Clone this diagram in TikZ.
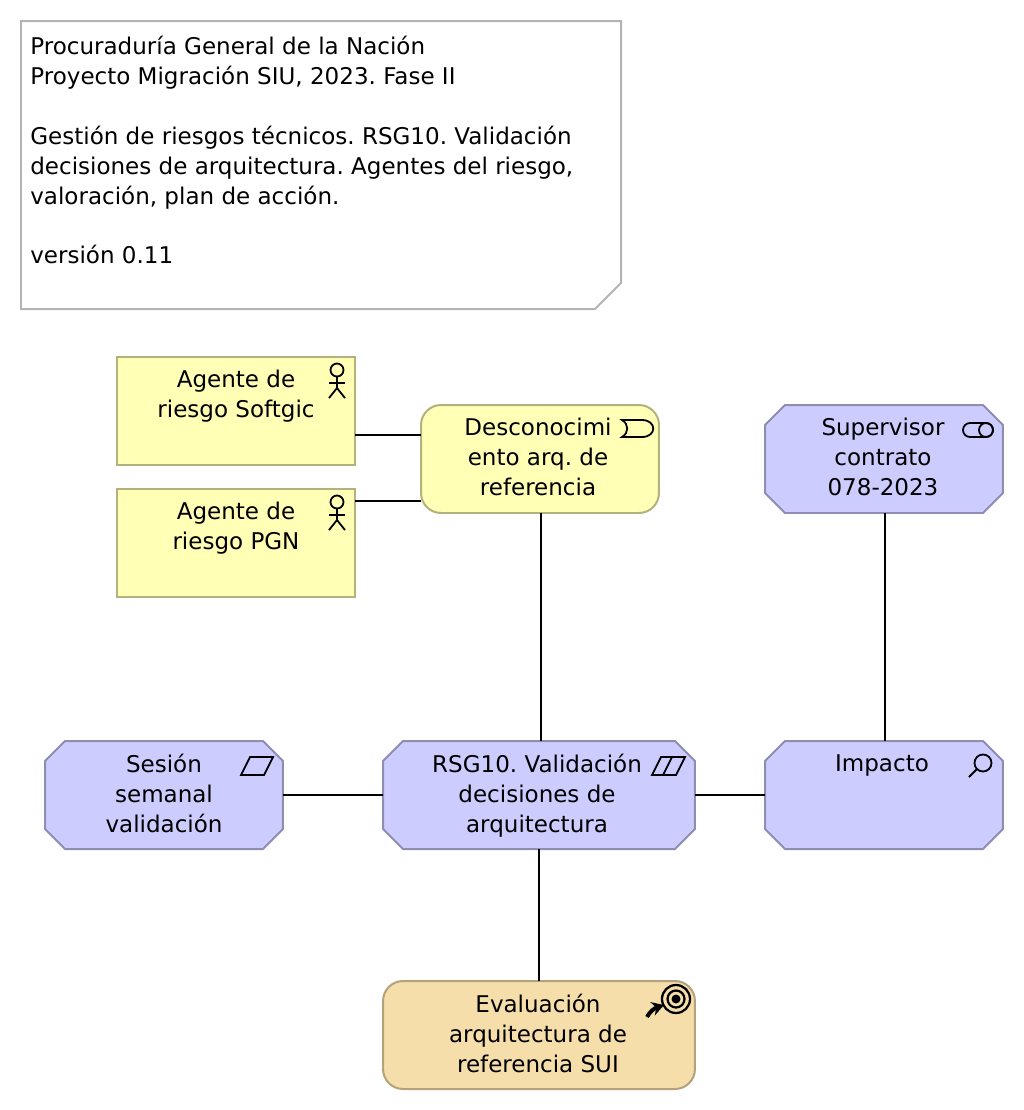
\documentclass[tikz,border=0pt]{standalone}
\usepackage{fontspec}
\setmainfont{DejaVu Sans}
\frenchspacing
\usepackage{xcolor}
\usetikzlibrary{positioning,arrows.meta}
\definecolor{cyellow}{HTML}{FFFFB5}
\definecolor{cyellowb}{HTML}{B2B27E}
\definecolor{cblue}{HTML}{CCCCFF}
\definecolor{cblueb}{HTML}{8E8EB2}
\definecolor{ctan}{HTML}{F5DEAA}
\definecolor{ctanb}{HTML}{B3A27B}
\definecolor{cnote}{HTML}{B3B3B3}
\tikzset{
  actorbox/.style={rectangle, draw=cyellowb, fill=cyellow, line width=0.04cm, minimum width=4.76cm, minimum height=2.16cm, outer sep=0pt},
  driverbox/.style={rectangle, rounded corners=0.4cm, draw=cyellowb, fill=cyellow, line width=0.04cm, minimum width=4.76cm, minimum height=2.16cm, outer sep=0pt},
  octbox/.style={rectangle, minimum width=4.76cm, minimum height=2.16cm, inner sep=0pt, outer sep=0pt},
  octline/.style={draw=cblueb, fill=cblue, line width=0.04cm},
  goalbox/.style={rectangle, rounded corners=0.4cm, draw=ctanb, fill=ctan, line width=0.04cm, minimum width=6.24cm, minimum height=2.16cm, outer sep=0pt},
  boxtext/.style={align=center, inner sep=0pt, font=\fontsize{13.1}{17}\selectfont},
  link/.style={line width=0.04cm, black},
  iconline/.style={line width=0.036cm, black}
}
\newcommand{\octframe}[1]{%
  \draw[octline] ([xshift=0.4cm]#1.north west) -- ([xshift=-0.4cm]#1.north east)
        -- ([yshift=-0.4cm]#1.north east) -- ([yshift=0.4cm]#1.south east)
        -- ([xshift=-0.4cm]#1.south east) -- ([xshift=0.4cm]#1.south west)
        -- ([yshift=0.4cm]#1.south west) -- ([yshift=-0.4cm]#1.north west) -- cycle;}
\begin{document}
\begin{tikzpicture}[x=0.02cm, y=-0.02cm]
  \useasboundingbox (0,0) rectangle (1024,1110);
  % note
  \draw[line width=0.04cm, draw=cnote, fill=white]
        (21,21) -- (621,21) -- (621,283) -- (595,309) -- (21,309) -- cycle;
  \node[anchor=north west, align=left, inner sep=0pt, font=\fontsize{13.1}{17}\selectfont] (note) at (30,36)
        {Procuraduría General de la Nación\\
         Proyecto Migración SIU, 2023. Fase II\\
         \mbox{}\\
         Gestión de riesgos técnicos. RSG10. Validación\\
         decisiones de arquitectura. Agentes del riesgo,\\
         valoración, plan de acción.\\
         \mbox{}\\
         versión 0.11};
  % boxes
  \node[actorbox] (softgic) at (236,411) {};
  \node[actorbox] (pgn) at (236,543) {};
  \node[driverbox] (desc) at (540,459) {};
  \node[octbox] (superv) at (884,459) {};
  \node[octbox] (sesion) at (164,795) {};
  \node[octbox, minimum width=6.24cm] (rsg) at (539,795) {};
  \node[octbox] (impacto) at (884,795) {};
  \node[goalbox] (eval) at (539,1035) {};
  \foreach \oct in {superv,sesion,rsg,impacto} {\octframe{\oct}}
  % connectors
  \draw[link] ([yshift=-0.48cm]softgic.east) -- ([yshift=-0.48cm]softgic.east -| desc.west);
  \draw[link] ([yshift=0.84cm]pgn.east) -- ([yshift=0.84cm]pgn.east -| desc.west);
  \draw[link] ([xshift=0.02cm]desc.south) -- ([xshift=0.02cm]desc.south |- rsg.north);
  \draw[link] ([xshift=0.02cm]superv.south) -- ([xshift=0.02cm]superv.south |- impacto.north);
  \draw[link] (sesion.east) -- (rsg.west);
  \draw[link] (rsg.east) -- (impacto.west);
  \draw[link] (rsg.south) -- (eval.north);
  % labels
  \node[boxtext, below=0.26cm of softgic.north] (softgictext) {Agente de\\riesgo Softgic};
  \node[boxtext, below=0.26cm of pgn.north] (pgntext) {Agente de\\riesgo PGN};
  \node[boxtext, below=0.26cm of desc.north, xshift=-0.04cm] (desctext) {Desconocimi\\ento arq. de\\referencia};
  \node[boxtext, below=0.26cm of superv.north, xshift=-0.02cm] (supervtext) {Supervisor\\contrato\\078-2023};
  \node[boxtext, below=0.26cm of sesion.north] (sesiontext) {Sesión\\semanal\\validación};
  \node[boxtext, below=0.26cm of rsg.north, xshift=-0.04cm] (rsgtext) {RSG10. Validación\\decisiones de\\arquitectura};
  \node[boxtext, below=0.26cm of impacto.north, xshift=-0.04cm] (impactotext) {Impacto};
  \node[boxtext, below=0.26cm of eval.north, xshift=-0.02cm] (evaltext) {Evaluación\\arquitectura de\\referencia SUI};
  % icons
  \foreach \dy in {0,132} {
    \draw[iconline] (337,370+\dy) circle (6.5);
    \draw[iconline] (337,377+\dy) -- (337,388+\dy);
    \draw[iconline] (329,383+\dy) -- (345,383+\dy);
    \draw[iconline] (329,398+\dy) -- (337,388+\dy) -- (345,398+\dy);
  }
  \draw[iconline] (622,420) -- (642,420) .. controls (657,420) and (657,437) .. (642,437)
        -- (622,437) .. controls (629,433) and (629,424) .. (622,420) -- cycle;
  \draw[iconline, rounded corners=0.14cm] (963,423) rectangle (993,437);
  \draw[iconline] (986,430) circle (7);
  \draw[iconline] (241,775) -- (250,757) -- (273,757) -- (264,775) -- cycle;
  \draw[iconline] (652,775) -- (661,757) -- (685,757) -- (676,775) -- cycle;
  \draw[iconline] (663,775) -- (672,757);
  \draw[iconline] (983,763) circle (8.5);
  \draw[iconline] (977,769) -- (969,777);
  \draw[line width=0.045cm] (676,999) circle (14);
  \draw[line width=0.045cm] (676,999) circle (8.5);
  \fill[black] (676,999) circle (4.5);
  \draw[line width=0.08cm, -{Stealth[length=0.24cm,width=0.28cm]}] (647,1017) .. controls (650,1011) and (655,1008) .. (664,1005);
\end{tikzpicture}
\end{document}
